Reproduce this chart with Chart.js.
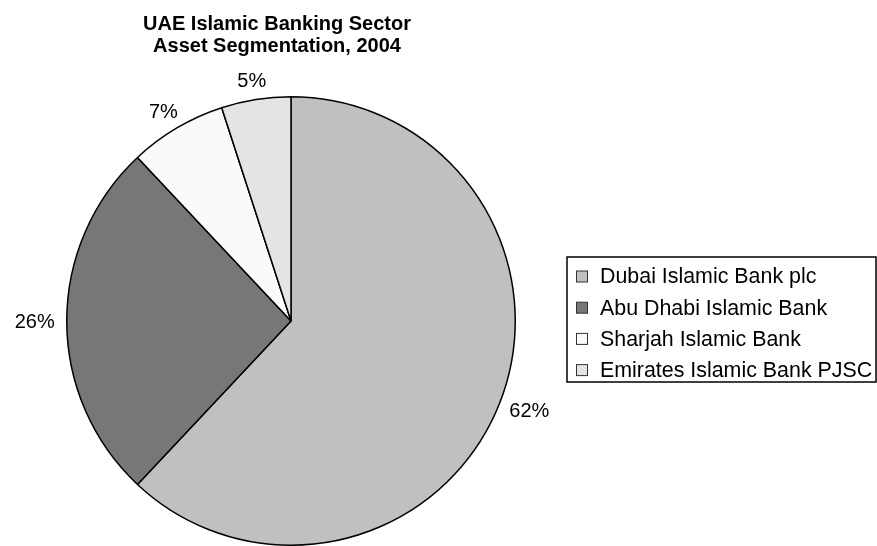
<!DOCTYPE html>
<html>
<head>
<meta charset="utf-8">
<script src="https://cdn.jsdelivr.net/npm/chart.js@4"></script>
<style>
  html,body{margin:0;padding:0;background:#fff;}
  #wrap{width:877px;height:546px;position:relative;}
</style>
</head>
<body>
<div id="wrap"><canvas id="c" width="877" height="546"></canvas></div>
<script>
// data
const banks   = ['Dubai Islamic Bank plc','Abu Dhabi Islamic Bank','Sharjah Islamic Bank','Emirates Islamic Bank PJSC'];
const shares  = [62, 26, 7, 5];
const fills   = ['#c0c0c0','#777777','#fafafa','#e4e4e4'];
const titleLines = ['UAE Islamic Banking Sector','Asset Segmentation, 2004'];

const FONT = '"Liberation Sans", Arial, sans-serif';

// title, drawn at a fixed spot over the pie
const titlePlugin = {
  id:'titleLines',
  afterDraw(chart){
    const ctx=chart.ctx;
    ctx.save();
    ctx.font='bold 20px '+FONT; ctx.fillStyle='#000'; ctx.textAlign='center'; ctx.textBaseline='alphabetic';
    ctx.fillText(titleLines[0], 277, 30);
    ctx.fillText(titleLines[1], 277, 52);
    ctx.restore();
  }
};

// percent labels outside each slice
const pctPlugin = {
  id:'pctLabels',
  afterDatasetsDraw(chart){
    const ctx=chart.ctx, meta=chart.getDatasetMeta(0), ds=chart.data.datasets[0];
    const total=ds.data.reduce((s,v)=>s+v,0);
    ctx.save();
    ctx.font='20px '+FONT; ctx.fillStyle='#000'; ctx.textAlign='center'; ctx.textBaseline='middle';
    meta.data.forEach((arc,i)=>{
      const mid=(arc.startAngle+arc.endAngle)/2;
      const r=arc.outerRadius+12;
      const txt=Math.round(ds.data[i]/total*100)+'%';
      const hw=ctx.measureText(txt).width/2, hh=7.5;
      const x=arc.x+Math.cos(mid)*r+Math.cos(mid)*hw;
      const y=arc.y+Math.sin(mid)*r+Math.sin(mid)*hh;
      ctx.fillText(txt, x, y+1);
    });
    ctx.restore();
  }
};

// boxed legend on the right
const legendPlugin = {
  id:'boxLegend',
  afterDraw(chart){
    const ctx=chart.ctx, labels=chart.data.labels, cols=chart.data.datasets[0].backgroundColor;
    const bx=567, by=257, bw=309, bh=125, row=31.2, y0=276.5;
    ctx.save();
    ctx.lineWidth=1.5; ctx.strokeStyle='#000';
    ctx.strokeRect(bx, by, bw, bh);
    ctx.font='21.4px '+FONT; ctx.textAlign='left'; ctx.textBaseline='middle';
    labels.forEach((lab,i)=>{
      const y=y0+i*row;
      ctx.fillStyle=cols[i]; ctx.fillRect(576.5, y-5.5, 11, 11);
      ctx.lineWidth=1; ctx.strokeStyle='#333'; ctx.strokeRect(576.5, y-5.5, 11, 11);
      ctx.fillStyle='#000'; ctx.fillText(lab, 600, y+1);
    });
    ctx.restore();
  }
};

new Chart(document.getElementById('c'),{
  type:'pie',
  plugins:[titlePlugin,pctPlugin,legendPlugin],
  data:{labels:banks,datasets:[{data:shares,backgroundColor:fills,borderColor:'#000',borderWidth:1.5,hoverOffset:0,offset:0}]},
  options:{
    responsive:false,animation:false,
    events:[],
    rotation:0,
    layout:{padding:{left:66,top:96,right:361,bottom:0}},
    plugins:{legend:{display:false},tooltip:{enabled:false},title:{display:false}}
  }
});
</script>
</body>
</html>
